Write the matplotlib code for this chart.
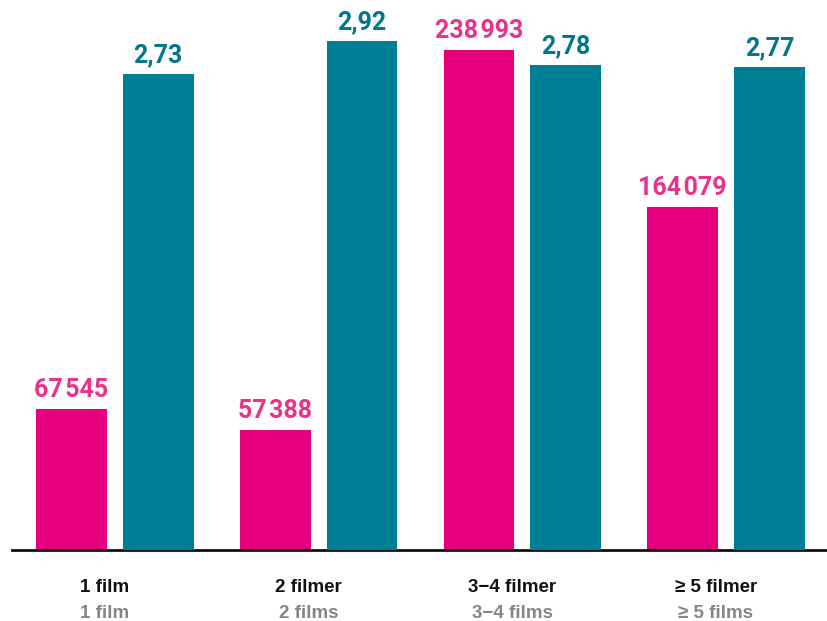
import matplotlib
matplotlib.use("Agg")
import matplotlib.pyplot as plt
import matplotlib.transforms as mtransforms

categories_sv = ["1 film", "2 filmer", "3\u22124 filmer", "\u2265 5 filmer"]
categories_en = ["1 film", "2 films", "3\u22124 films", "\u2265 5 films"]
pink_values = [67545, 57388, 238993, 164079]
teal_values = [2.73, 2.92, 2.78, 2.77]

PINK = "#E6007E"
PINK_TXT = "#E8338A"
TEAL = "#007E96"
TEAL_TXT = "#00778D"

W, H = 827, 621
fig = plt.figure(figsize=(W / 100, H / 100), dpi=100)
ax = fig.add_axes([12 / W, 1 - 550 / H, 1 - 12 / W, 550 / H])
ax2 = ax.twinx()

x = list(range(len(categories_sv)))
off = 0.213
bw = 0.348

ax.bar([i - off for i in x], pink_values, width=bw, color=PINK, zorder=2)
ax2.bar([i + off for i in x], teal_values, width=bw, color=TEAL, zorder=2)

ax.set_xlim(-0.505, 3.495)
ax.set_ylim(0, 238993 * 550 / 500)
ax2.set_ylim(0, 2.92 * 550 / 509)


def fmt_int(v):
    return f"{v:,}".replace(",", "\u200a")


NUMFONT = ["Roboto", "DejaVu Sans"]
for i, v in zip(x, pink_values):
    ax.annotate(fmt_int(v), (i - off, v), xytext=(0, 5), textcoords="offset points",
                ha="center", va="bottom", color=PINK_TXT, fontsize=18,
                fontweight="bold", family=NUMFONT)
for i, v in zip(x, teal_values):
    ax2.annotate(f"{v:.2f}".replace(".", ","), (i + off, v), xytext=(0, 5),
                 textcoords="offset points", ha="center", va="bottom",
                 color=TEAL_TXT, fontsize=18, fontweight="bold", family=NUMFONT)

for a in (ax, ax2):
    for s in ("top", "right", "left"):
        a.spines[s].set_visible(False)
    a.set_yticks([])
ax2.spines["bottom"].set_visible(False)
ax.spines["bottom"].set_linewidth(2)
ax.spines["bottom"].set_color("#111111")
ax.set_xticks([])

trans = mtransforms.blended_transform_factory(ax.transData, fig.transFigure)
LBLFONT = ["Liberation Sans", "DejaVu Sans"]
for i, (sv, en) in enumerate(zip(categories_sv, categories_en)):
    ax.text(i - 0.05, 1 - 588 / H, sv, ha="center", va="center", fontsize=13.5,
            fontweight="bold", color="#111111", family=LBLFONT, transform=trans)
    ax.text(i - 0.05, 1 - 613 / H, en, ha="center", va="center", fontsize=13.5,
            fontweight="bold", color="#858585", family=LBLFONT, transform=trans)

fig.savefig("out.png", dpi=100)
